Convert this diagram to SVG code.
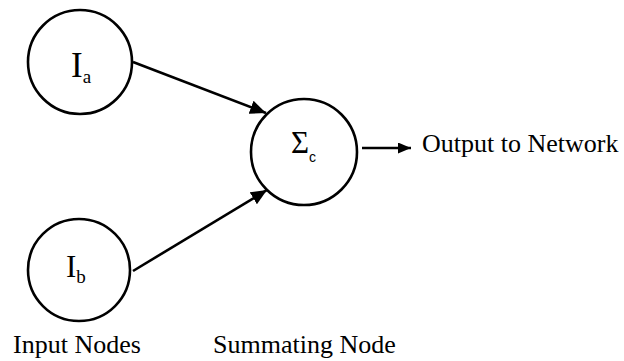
<svg xmlns="http://www.w3.org/2000/svg" width="624" height="361" viewBox="0 0 624 361">
<style>
.node{fill:#fff;stroke:#000;stroke-width:2.6}
.edge{fill:none;stroke:#000;stroke-width:2.6}
text{font-family:"Liberation Serif","Times New Roman",serif;fill:#000}
.lbl{font-size:26px}
</style>
<defs>
<marker id="ah" markerUnits="userSpaceOnUse" markerWidth="16" markerHeight="14" viewBox="0 0 16 14" refX="16" refY="7" orient="auto">
<path d="M0,0 L16,7 L0,14 Z" fill="#000"/>
</marker>
<marker id="ah2" markerUnits="userSpaceOnUse" markerWidth="13" markerHeight="11" viewBox="0 0 13 11" refX="13" refY="5.5" orient="auto">
<path d="M0,0 L13,5.5 L0,11 Z" fill="#000"/>
</marker>
</defs>
<g id="connectors">
<line class="edge" x1="133" y1="62" x2="266" y2="113" marker-end="url(#ah)"/>
<line class="edge" x1="133" y1="271" x2="267" y2="190" marker-end="url(#ah)"/>
<line class="edge" x1="362" y1="148" x2="411" y2="148" marker-end="url(#ah2)"/>
</g>
<g id="node-Ia">
<circle class="node" cx="80" cy="62" r="52"/>
<text x="71" y="77" font-size="35">I<tspan font-size="19" dy="6">a</tspan></text>
</g>
<g id="node-Ib">
<circle class="node" cx="79" cy="270" r="51"/>
<text x="66" y="277" font-size="31">I<tspan font-size="19" dy="6">b</tspan></text>
</g>
<g id="node-Sc">
<circle class="node" cx="304" cy="152" r="53"/>
<text x="291" y="153" font-size="31">Σ<tspan font-family="Liberation Sans, Arial, sans-serif" font-size="14" dy="9">c</tspan></text>
</g>
<text class="lbl" x="422" y="152">Output to Network</text>
<text class="lbl" x="13" y="353">Input Nodes</text>
<text class="lbl" x="213" y="353">Summating Node</text>
</svg>
